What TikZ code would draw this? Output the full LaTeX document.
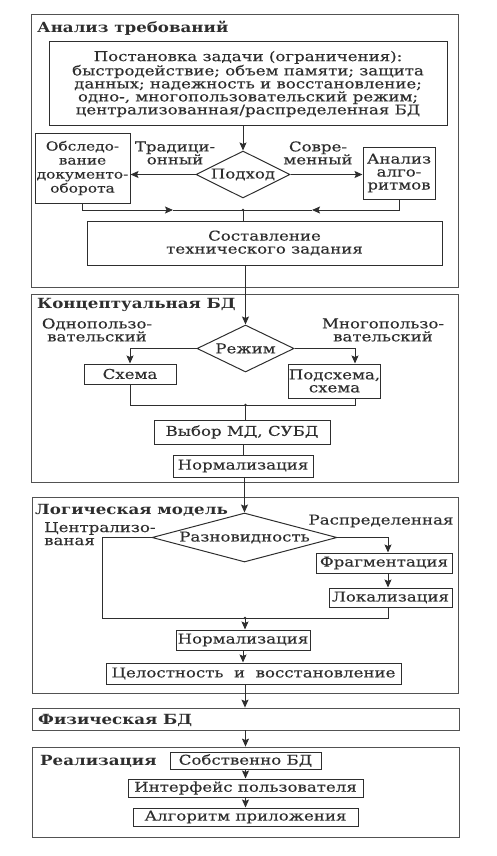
\documentclass[tikz,border=0pt]{standalone}
\usepackage{fontspec}
\setmainfont[FakeStretch=1.23, UprightFeatures={FakeBold=0.3}, BoldFeatures={FakeStretch=1.19}]{DejaVu Serif}
\usetikzlibrary{arrows.meta,shapes.geometric,calc}
\definecolor{ink}{gray}{0.18}
\definecolor{frame}{gray}{0.32}
\newcommand{\bodyfs}{\fontsize{13.5}{13}\selectfont}
\newcommand{\smallfs}{\fontsize{12.5}{14}\selectfont}
\newcommand{\ttlfs}{\fontsize{14}{14}\selectfont\bfseries}
\begin{document}
\begin{tikzpicture}[x=1pt,y=-1pt,
  every node/.style={text=ink},
  sect/.style={draw=frame, line width=0.8pt, inner sep=0pt},
  ttl/.style={anchor=west, inner sep=0pt, font=\ttlfs},
  box/.style={draw=ink, line width=1pt, inner sep=0pt, align=center, font=\bodyfs},
  dia/.style={draw=ink, line width=1pt, diamond, inner sep=0pt, font=\bodyfs},
  lbl/.style={inner sep=0pt, align=center, font=\bodyfs},
  ln/.style={draw=ink, line width=1pt},
  arr/.style={draw=ink, line width=1pt, -{Stealth[length=8pt,width=7pt,inset=1.5pt]}},
  dot/.style={circle, fill=ink, inner sep=0pt, minimum size=2.6pt}
]
\useasboundingbox (0,0) rectangle (496,856);

% ---------- Section 1 ----------
\node[sect, minimum width=427pt, minimum height=273pt] (S1) at (244.5,150.5) {};
\node[ttl] (T1) at (37,28) {Анализ требований};
\node[box, minimum width=398pt, minimum height=84pt] (task) at (248,84)
  {Постановка задачи (ограничения):\\быстродействие; объем памяти; защита\\данных; надежность и восстановление;\\одно-, многопользовательский режим;\\централизованная/распределенная БД};
\node[dia, shape aspect=2, minimum width=94pt, minimum height=47pt] (podh) at (243,174.5) {Подход};
\node[box, font=\smallfs, minimum width=95pt, minimum height=70pt] (obsl) at (82.5,168)
  {Обследо-\\вание\\документо-\\оборота};
\node[box, minimum width=72pt, minimum height=52pt] (alg) at (399,173)
  {Анализ\\алго-\\ритмов};
\node[lbl] (Ltr) at (175,153) {Традици-\\онный};
\node[lbl] (Lsv) at (318,153) {Совре-\\менный};
\node[box, minimum width=355pt, minimum height=44pt] (tz) at (264.5,243)
  {Составление\\технического задания};
\coordinate (J1) at (243,210);
\coordinate (m1a) at (173,210);
\coordinate (m1b) at (312,210);

\draw[arr] (podh.north |- task.south) -- (podh.north);
\draw[arr] (podh.west) -- (podh.west -| obsl.east);
\draw[arr] (podh.east) -- (podh.east -| alg.west);
\draw[arr] (obsl.south) |- (m1a);
\draw[ln] (m1a) -- (J1);
\draw[arr] (alg.south) |- (m1b);
\draw[ln] (m1b) -- (J1);
\draw[ln] (J1) -- (J1 |- tz.north);
\node[dot] (D1) at (J1) {};

% ---------- Section 2 ----------
\node[sect, minimum width=427pt, minimum height=188pt] (S2) at (244.5,388) {};
\node[ttl] (T2) at (37,305) {Концептуальная БД};
\node[dia, shape aspect=2, minimum width=97pt, minimum height=47pt] (rezh) at (245.5,348.5) {Режим};
\node[lbl] (Lodn) at (97,330) {Однопользо-\\вательский};
\node[lbl] (Lmn) at (383,330) {Многопользо-\\вательский};
\node[box, minimum width=92pt, minimum height=20pt] (shema) at (130,374) {Схема};
\node[box, minimum width=91pt, minimum height=34pt] (podsh) at (334.5,381) {Подсхема,\\схема};
\coordinate (pin) at ($(podsh.north)+(20.5,0)$);
\coordinate (pout) at ($(podsh.south)+(20.5,0)$);
\coordinate (J2) at (245.5,405);
\node[box, minimum width=176pt, minimum height=24pt] (vyb) at (242,432) {Выбор МД, СУБД};
\node[box, minimum width=140pt, minimum height=22pt] (norm1) at (243,466) {Нормализация};

\draw[arr] (rezh.north |- tz.south) -- (rezh.north);
\draw[arr] (rezh.west) -| (shema.north);
\draw[arr] (rezh.east) -| (pin);
\draw[ln] (shema.south) |- (J2);
\draw[ln] (pout) |- (J2);
\draw[ln] (J2) -- (J2 |- vyb.north);
\draw[ln] (norm1.north |- vyb.south) -- (norm1.north);
\node[dot] (D2) at (J2) {};

% ---------- Section 3 ----------
\node[sect, minimum width=426pt, minimum height=196pt] (S3) at (245,595) {};
\node[ttl] (T3) at (35,510) {Логическая модель};
\node[dia, shape aspect=3.78, minimum width=185pt, minimum height=49pt] (razn) at (244.5,537.5) {Разновидность};
\node[lbl, anchor=north west, align=left] (Lcen) at (44,522) {Централизо-\\ваная};
\node[lbl] (Lras) at (381,521) {Распределенная};
\node[box, minimum width=136pt, minimum height=20pt] (frag) at (384,563) {Фрагментация};
\node[box, minimum width=123pt, minimum height=19pt] (lok) at (390.5,597.5) {Локализация};
\coordinate (cl) at (102,618);
\coordinate (J3) at (245,618);
\node[box, minimum width=134pt, minimum height=20pt] (norm2) at (243,640) {Нормализация};
\node[box, minimum width=295pt, minimum height=21pt] (cel) at (253.5,673.5) {Целостность \ и \ восстановление};

\draw[arr] (razn.north |- norm1.south) -- (razn.north);
\draw[arr] (razn.east) -| (388,0 |- frag.north);
\draw[arr] (388,0 |- frag.south) -- (388,0 |- lok.north);
\draw[ln] (388,0 |- lok.south) |- (J3);
\draw[ln] (razn.west) -| (cl) -- (J3);
\draw[arr] (J3) -- (J3 |- norm2.north);
\draw[arr] (norm2.south) -- (norm2.south |- cel.north);
\node[dot] (D3) at (J3) {};

% ---------- Section 4 ----------
\node[sect, minimum width=427pt, minimum height=22pt] (S4) at (245.5,719) {};
\node[ttl] (T4) at (38,720) {Физическая БД};
\draw[arr] (J3 |- cel.south) -- (J3 |- S4.north);

% ---------- Section 5 ----------
\node[sect, minimum width=427pt, minimum height=90pt] (S5) at (245.5,792) {};
\node[ttl] (T5) at (40,761) {Реализация};
\node[box, minimum width=151pt, minimum height=17pt] (sob) at (245.5,760.5) {Собственно БД};
\node[box, minimum width=235pt, minimum height=18pt] (intf) at (245.5,788) {Интерфейс пользователя};
\node[box, minimum width=225pt, minimum height=18pt] (algp) at (245.5,817) {Алгоритм приложения};

\draw[arr] (S4.south -| sob) -- (S5.north -| sob);
\draw[arr] (sob.south) -- (intf.north);
\draw[arr] (intf.south) -- (algp.north);
\end{tikzpicture}
\end{document}
